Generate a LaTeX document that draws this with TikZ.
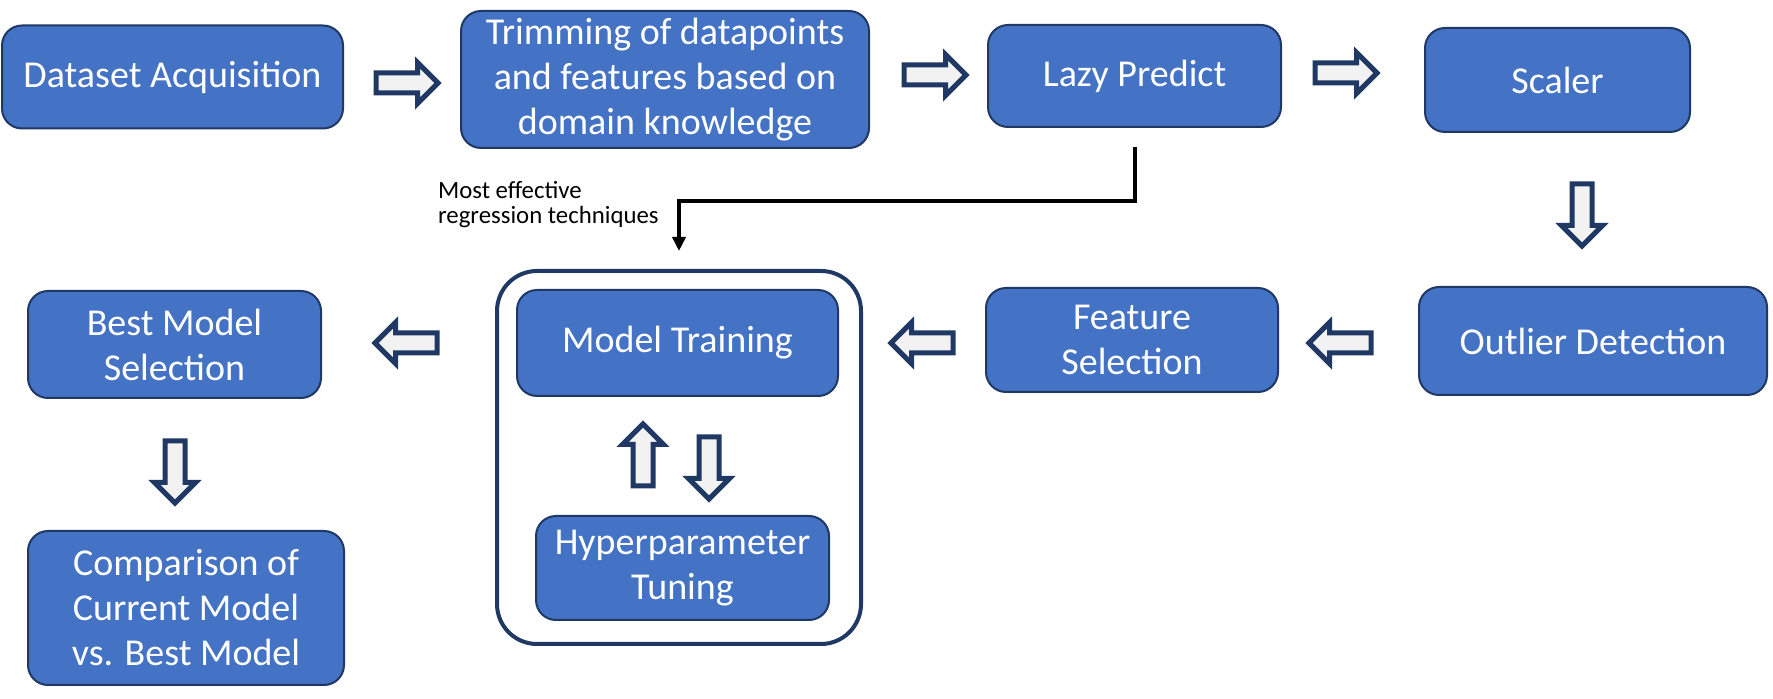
\documentclass[tikz,border=0pt]{standalone}
\usepackage{fontspec}
\setmainfont{Carlito}
\usetikzlibrary{shapes.arrows,arrows.meta}
\definecolor{boxblue}{HTML}{4472C4}
\definecolor{navy}{HTML}{1F3864}
\definecolor{arrgray}{HTML}{F2F2F2}
\tikzset{
  stage/.style={draw=navy, line width=1pt, fill=boxblue, rounded corners=10pt, text=white, align=center, inner sep=0pt, font=\fontsize{19}{22.5}\selectfont},
  barrow/.style={single arrow, draw=navy, fill=arrgray, line width=2.5pt, minimum height=31pt, minimum width=0pt, inner sep=3.75pt, single arrow head extend=5.25pt},
  lbl/.style={align=left, inner sep=0pt, font=\fontsize{12.4}{12.5}\selectfont}
}
\begin{document}
\begin{tikzpicture}[x=0.5pt,y=-0.5pt]
        \useasboundingbox (0,0) rectangle (1773,699);
        \node[stage, minimum width=170.5pt, minimum height=51.5pt] (acq) at (172.5,77) {Dataset Acquisition};
        \node[stage, minimum width=204pt, minimum height=68.5pt] (trim) at (665,79.5) {Trimming of datapoints\\and features based on\\domain knowledge};
        \node[stage, minimum width=146.5pt, minimum height=51pt] (lazy) at (1134.5,76) {Lazy Predict};
        \node[stage, minimum width=132.5pt, minimum height=52pt] (scaler) at (1557.5,80) {Scaler};
        \node[stage, minimum width=174pt, minimum height=54pt] (outlier) at (1593,341) {Outlier Detection};
        \node[stage, minimum width=146pt, minimum height=52pt] (featsel) at (1132,340) {Feature\\Selection};
        \node[draw=navy, line width=2pt, rounded corners=20pt, minimum width=182pt, minimum height=186.5pt] (cont) at (679,457.5) {};
        \node[stage, minimum width=160.5pt, minimum height=53pt] (train) at (677.5,343) {Model Training};
        \node[stage, minimum width=146.5pt, minimum height=52pt] (hyper) at (682.5,568) {Hyperparameter\\Tuning};
        \node[stage, minimum width=146.5pt, minimum height=53.5pt] (best) at (174.5,344.5) {Best Model\\Selection};
        \node[stage, minimum width=158pt, minimum height=77pt] (comp) at (186,608) {Comparison of\\Current Model\\vs. Best Model};
        \node[barrow] (a1) at (402,83) {};
        \node[barrow] (a2) at (930,75) {};
        \node[barrow] (a3) at (1341,73) {};
        \node[barrow, rotate=-90] (a4) at (1582,210) {};
        \node[barrow, rotate=180] (a5) at (1345,343) {};
        \node[barrow, rotate=180] (a6) at (927,343) {};
        \node[barrow, rotate=180] (a7) at (411,343) {};
        \node[barrow, rotate=-90] (a8) at (175,467) {};
        \node[barrow, rotate=90] (a9) at (643,460) {};
        \node[barrow, rotate=-90] (a10) at (709,463) {};
        \draw[line width=2pt, -{Triangle[width=6.5pt,length=7pt]}] ([yshift=-9.5pt]lazy.south) -- ([yshift=-36.5pt]lazy.south) -| ([yshift=9pt]cont.north);
        \node[lbl, anchor=east] (techlbl) at (659,205) {Most effective\\regression techniques};
\end{tikzpicture}
\end{document}
